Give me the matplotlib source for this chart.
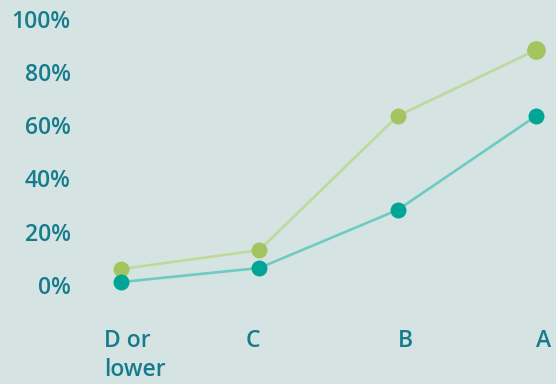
import matplotlib.pyplot as plt

grades = ["D or\nlower", "C", "B", "A"]
green_vals = [6.4, 13.5, 63.9, 88.7]
teal_vals = [1.5, 6.8, 28.6, 63.9]
y_ticks = [0, 20, 40, 60, 80, 100]

bg = "#d5e4e3"
text_col = "#167b8c"

fig = plt.figure(figsize=(5.56, 3.84), dpi=100, facecolor=bg)
ax = fig.add_axes([0, 0, 1, 1], facecolor=bg)

x = list(range(len(grades)))

# lines (lighter tint) then dots on top
ax.plot(x, green_vals, color="#bdd99b", lw=1.9, zorder=2)
ax.plot(x, teal_vals, color="#6fcbc1", lw=1.9, zorder=2)
ax.plot(x, green_vals, "o", color="#a4c45f", ms=11.5, mec="none", zorder=3)
ax.plot(x[-1:], green_vals[-1:], "o", color="#a4c45f", ms=13.5, mec="none", zorder=3)
ax.plot(x, teal_vals, "o", color="#00a596", ms=11.5, mec="none", zorder=4)

ax.set_xlim(-0.875, 3.145)
ax.set_ylim(-36.8, 107.5)
ax.axis("off")

font = dict(family=["Open Sans", "DejaVu Sans"], size=16.5,
            weight="semibold", color=text_col)

# y labels
for v in y_ticks:
    ax.text(-0.365, v - 0.7, f"{v}%", ha="right", va="center", **font)

# x labels, nudged a little off the dot centres like the original
nudge = [-0.12, -0.045, 0.06, 0.055]
for i, g in enumerate(grades):
    ha = "left" if i == 0 else "center"
    ax.text(i + nudge[i], -16.0, g, ha=ha, va="top", linespacing=1.3, **font)

fig.savefig("out.png", dpi=100, facecolor=bg)
